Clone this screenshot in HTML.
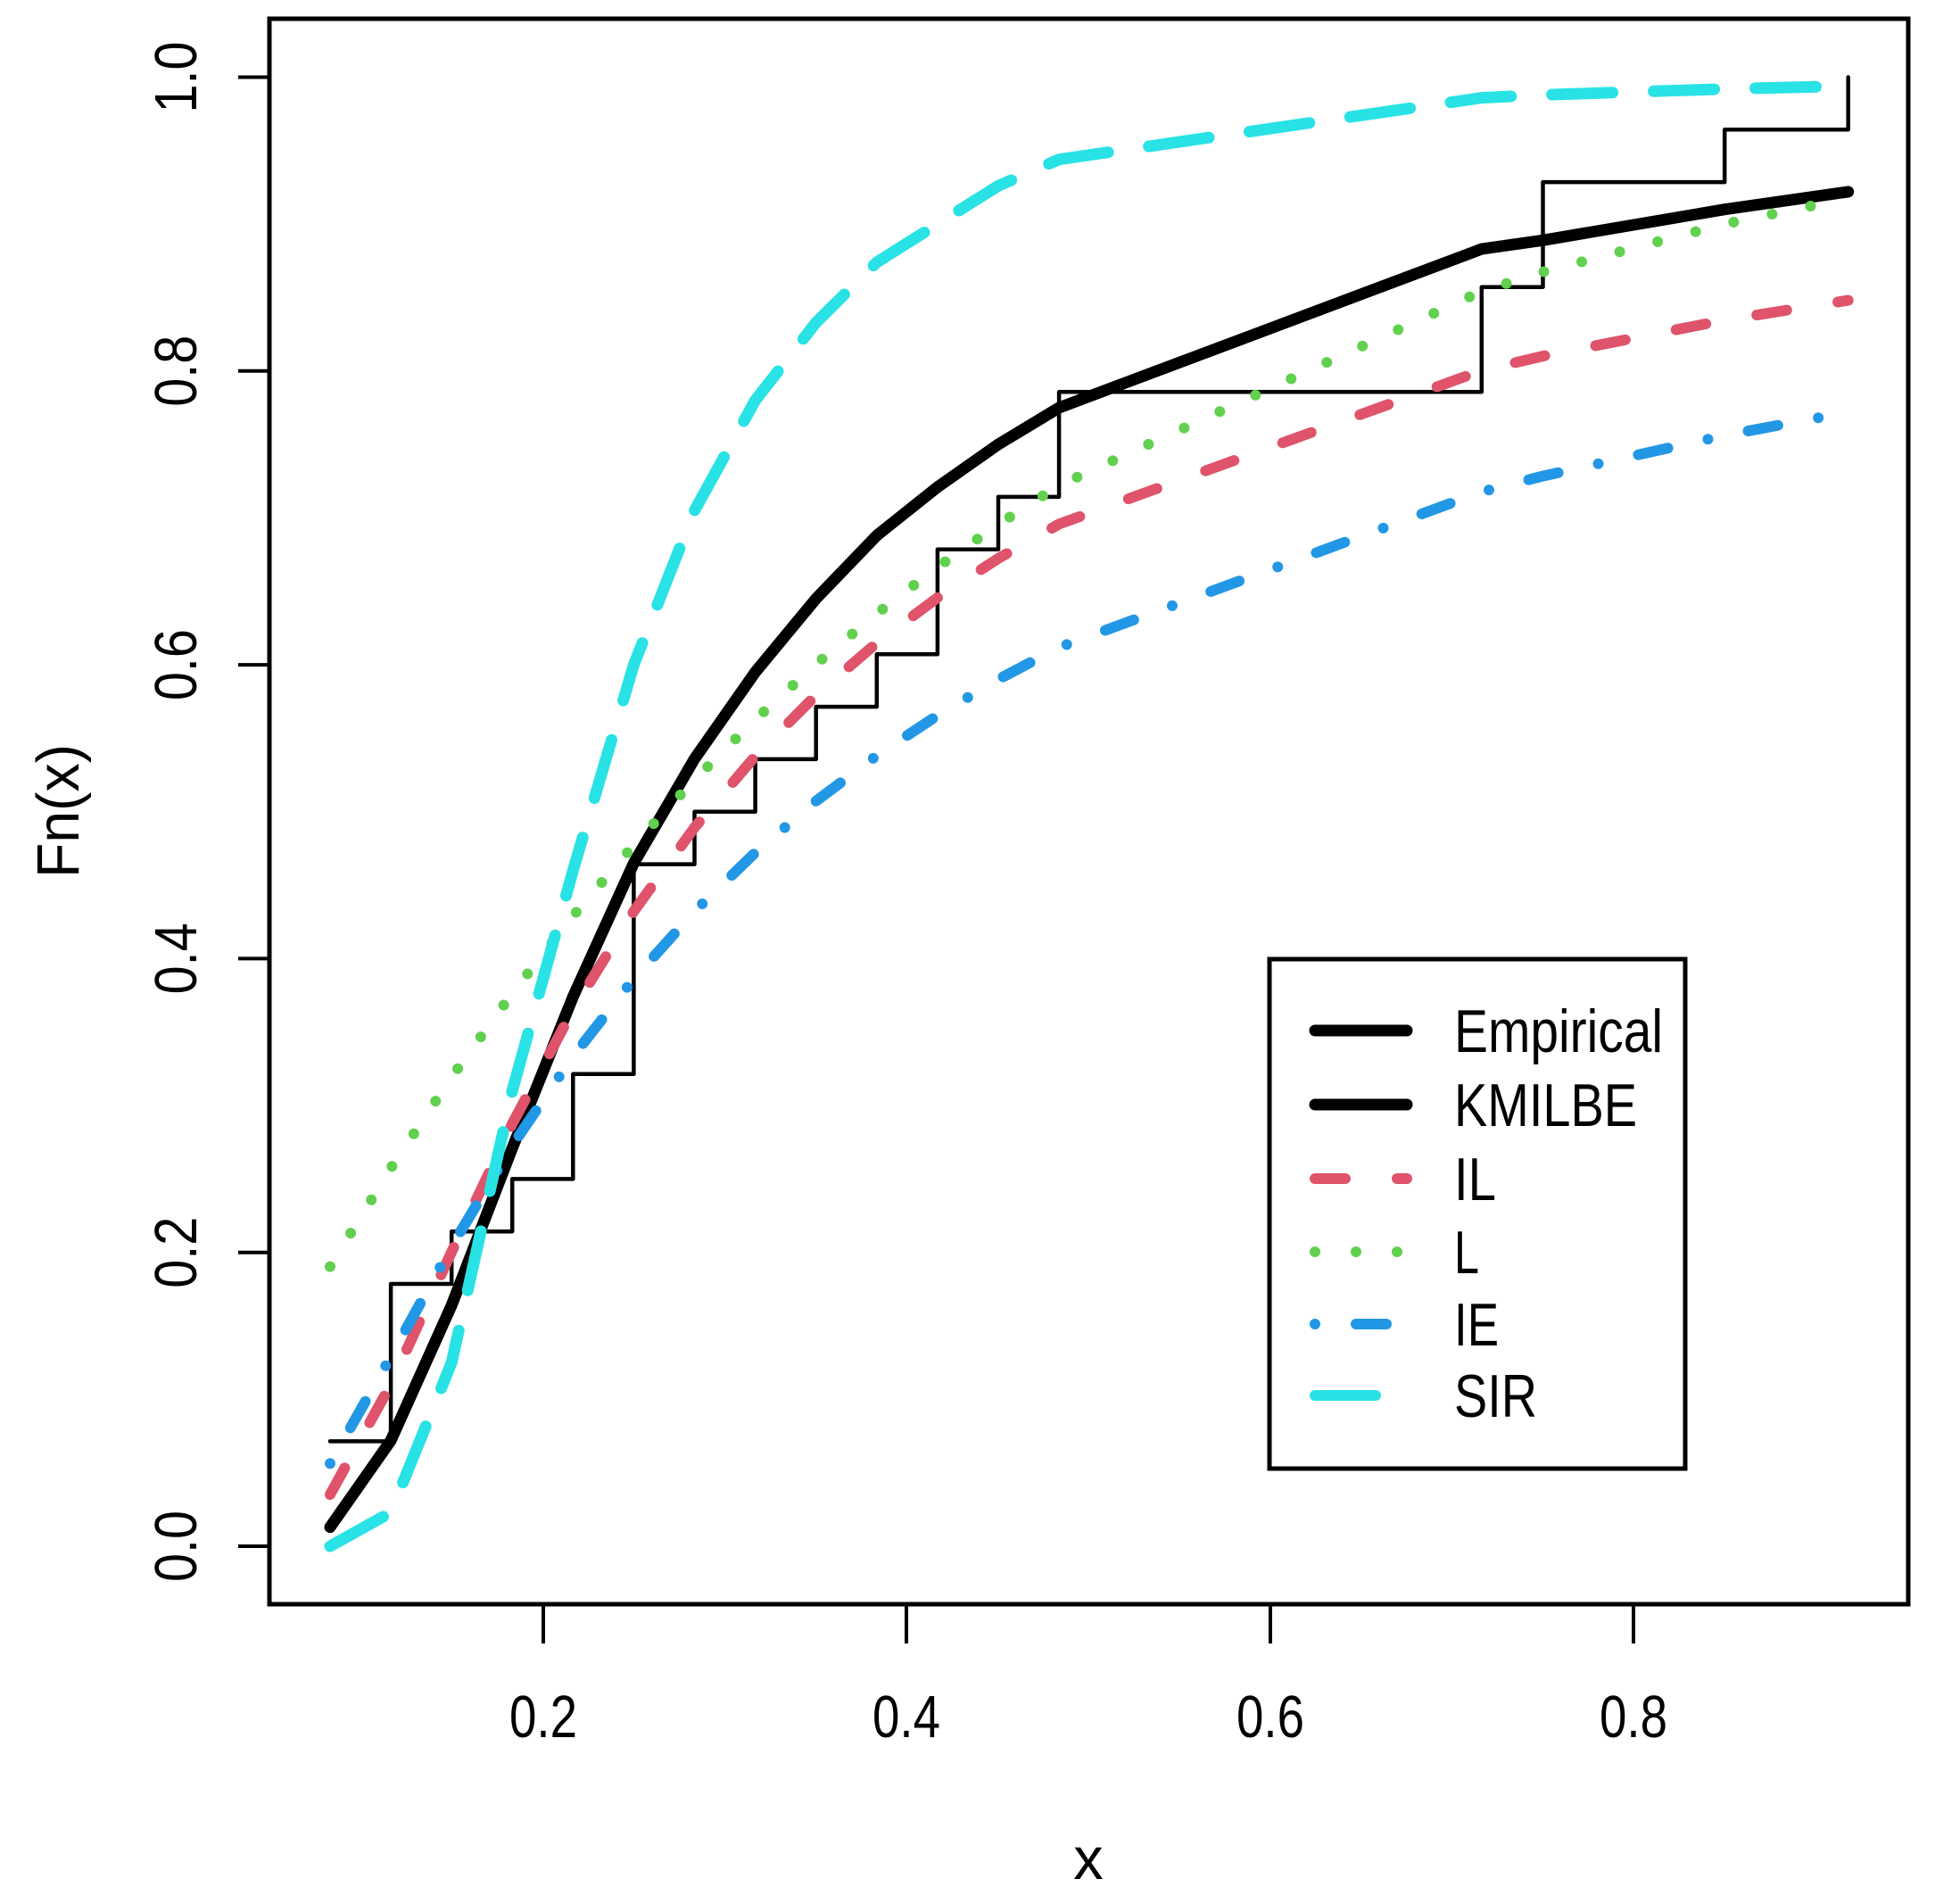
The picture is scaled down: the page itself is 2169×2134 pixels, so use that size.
<!DOCTYPE html>
<html><head><meta charset="utf-8"><style>
html,body{margin:0;padding:0;background:#fff;}
svg{display:block;}
text{font-family:"Liberation Sans",sans-serif;fill:#000;}
</style></head><body>
<svg id="s" width="2169" height="2134" viewBox="0 0 2169 2134" xmlns="http://www.w3.org/2000/svg">
<rect x="0" y="0" width="2169" height="2134" fill="#fff"/>
<g id="curves"></g>
<rect x="302" y="21" width="1837" height="1777" fill="none" stroke="#000" stroke-width="5"/>
<g stroke="#000" stroke-width="4">
<line x1="609" y1="1798" x2="609" y2="1842"/>
<line x1="1016" y1="1798" x2="1016" y2="1842"/>
<line x1="1424" y1="1798" x2="1424" y2="1842"/>
<line x1="1831" y1="1798" x2="1831" y2="1842"/>
<line x1="302" y1="1733" x2="267" y2="1733"/>
<line x1="302" y1="1403.7" x2="267" y2="1403.7"/>
<line x1="302" y1="1074.4" x2="267" y2="1074.4"/>
<line x1="302" y1="745.1" x2="267" y2="745.1"/>
<line x1="302" y1="415.8" x2="267" y2="415.8"/>
<line x1="302" y1="86.5" x2="267" y2="86.5"/>
</g>
<g font-size="67" text-anchor="middle">
<text x="609" y="1947" textLength="76" lengthAdjust="spacingAndGlyphs">0.2</text>
<text x="1016" y="1947" textLength="76" lengthAdjust="spacingAndGlyphs">0.4</text>
<text x="1424" y="1947" textLength="76" lengthAdjust="spacingAndGlyphs">0.6</text>
<text x="1831" y="1947" textLength="76" lengthAdjust="spacingAndGlyphs">0.8</text>
<text transform="translate(220,1733) rotate(-90)" textLength="80" lengthAdjust="spacingAndGlyphs">0.0</text>
<text transform="translate(220,1403.7) rotate(-90)" textLength="80" lengthAdjust="spacingAndGlyphs">0.2</text>
<text transform="translate(220,1074.4) rotate(-90)" textLength="80" lengthAdjust="spacingAndGlyphs">0.4</text>
<text transform="translate(220,745.1) rotate(-90)" textLength="80" lengthAdjust="spacingAndGlyphs">0.6</text>
<text transform="translate(220,415.8) rotate(-90)" textLength="80" lengthAdjust="spacingAndGlyphs">0.8</text>
<text transform="translate(220,86.5) rotate(-90)" textLength="80" lengthAdjust="spacingAndGlyphs">1.0</text>
<text x="1220" y="2106">x</text>
<text transform="translate(88,909) rotate(-90)" textLength="150" lengthAdjust="spacingAndGlyphs">Fn(x)</text>
</g>
<rect x="1423" y="1075" width="466" height="571" fill="#fff" stroke="#000" stroke-width="5"/>
<g stroke-linecap="round" fill="none">
<line x1="1474" y1="1155" x2="1577" y2="1155" stroke="#000" stroke-width="13"/>
<line x1="1474" y1="1238" x2="1577" y2="1238" stroke="#000" stroke-width="13"/>
<line x1="1474" y1="1321" x2="1577" y2="1321" stroke="#DF536B" stroke-width="12" stroke-dasharray="34 58"/>
<line x1="1474" y1="1403" x2="1577" y2="1403" stroke="#61D04F" stroke-width="12" stroke-dasharray="0 46"/>
<line x1="1474" y1="1484" x2="1577" y2="1484" stroke="#2297E6" stroke-width="12" stroke-dasharray="0 46 34 46"/>
<line x1="1474" y1="1564" x2="1577" y2="1564" stroke="#28E2E5" stroke-width="12" stroke-dasharray="68 46"/>
</g>
<g font-size="68">
<text x="1630" y="1179" textLength="234" lengthAdjust="spacingAndGlyphs">Empirical</text>
<text x="1630" y="1262" textLength="205" lengthAdjust="spacingAndGlyphs">KMILBE</text>
<text x="1630" y="1345" textLength="47" lengthAdjust="spacingAndGlyphs">IL</text>
<text x="1630" y="1427" textLength="28" lengthAdjust="spacingAndGlyphs">L</text>
<text x="1630" y="1508" textLength="50" lengthAdjust="spacingAndGlyphs">IE</text>
<text x="1630" y="1588" textLength="93" lengthAdjust="spacingAndGlyphs">SIR</text>
</g>
</svg>
<script>
(function(){
var NS="http://www.w3.org/2000/svg";
function X(x){return 201.7+2037*x;}
function Y(y){return 1733-1646.5*y;}
var xs=[];for(var k=0;k<13;k++)xs.push(0.0826+k*0.03343);
xs.push(0.7163,0.750,0.850,0.918);
var g=document.getElementById("curves");
function path(d,col,w,dash){var p=document.createElementNS(NS,"path");p.setAttribute("d",d);p.setAttribute("fill","none");p.setAttribute("stroke",col);p.setAttribute("stroke-width",w);p.setAttribute("stroke-linecap","round");p.setAttribute("stroke-linejoin","round");if(dash)p.setAttribute("stroke-dasharray",dash);g.appendChild(p);}
function poly(vals){var d="";for(var i=0;i<xs.length;i++){d+=(i?"L":"M")+X(xs[i]).toFixed(1)+" "+Y(vals[i]).toFixed(1);}return d;}
function fn(f){return xs.map(f);}
// step function
var lv=[2,5,6,7,9,13,14,15,16,17,19,20,22,24,26,27,28];
var d="M"+X(xs[0])+" "+Y(lv[0]/28);
for(var i=0;i<xs.length-1;i++){d+="L"+X(xs[i+1]).toFixed(1)+" "+Y(lv[i]/28).toFixed(1)+"L"+X(xs[i+1]).toFixed(1)+" "+Y(lv[i+1]/28).toFixed(1);}
path(d,"#000",4.5,null);
// KMILBE
var km=[0.013,0.072,0.164,0.271,0.374,0.465,0.536,0.595,0.645,0.688,0.721,0.750,0.775,0.883,0.889,0.910,0.922];
path(poly(km),"#000",13,null);
// IL
var th=0.4;
path(poly(fn(function(x){return (1+th/((1+th)*x))*Math.exp(-th/x);})),"#DF536B",12,"34 58");
// L
var t2=3.3;
path(poly(fn(function(x){return 1-(1+t2+t2*x)/(1+t2)*Math.exp(-t2*x);})),"#61D04F",12,"0 44");
// IE
path(poly(fn(function(x){return Math.exp(-0.2376/x);})),"#2297E6",12,"0 46 34 46");
// SIR
var sir=[0,0.023,0.125,0.31,0.46,0.60,0.705,0.78,0.833,0.874,0.90,0.926,0.944,0.986,0.988,0.992,0.994];
path(poly(sir),"#28E2E5",13,"68 46");
})();
</script>
</body></html>
